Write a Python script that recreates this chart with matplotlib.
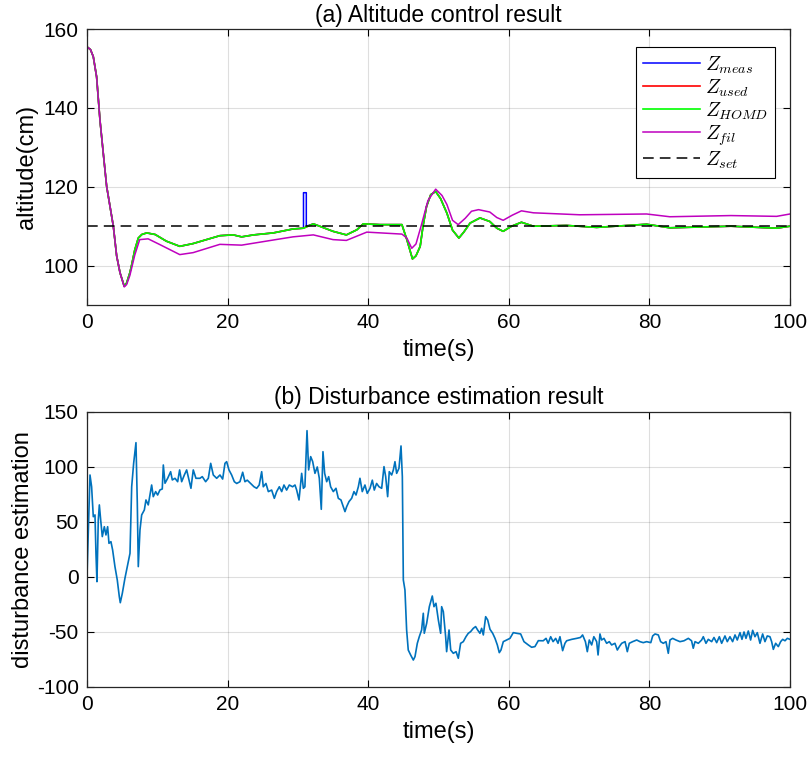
import numpy as np
import matplotlib.pyplot as plt

plt.rcParams['font.family'] = ['Liberation Sans', 'DejaVu Sans']
plt.rcParams['mathtext.fontset'] = 'cm'
plt.rcParams['axes.unicode_minus'] = False

# (a) altitude
t_homd = [0, 0.5, 0.9, 1.37, 1.85, 2.32, 2.8, 3.75, 4.22, 4.7, 5.3, 5.64, 6.1, 6.36, 6.8,
          7.3, 7.8, 8.5, 9.7, 11.3, 13.2, 15.1, 17, 18.9, 20.8, 22, 23.7, 26.5, 29.3, 30.8,
          32.2, 33.1, 35, 36.9, 38.4, 39.3, 41.7, 44.8, 45.5, 46.3, 46.8, 47.4, 47.8, 48.3,
          48.9, 49.6, 50.3, 51.2, 52.0, 52.9, 53.6, 54.5, 55.9, 57.3, 58.3, 59.2, 60.4,
          61.8, 63.5, 68.2, 72.5, 79.6, 82.9, 91.6, 98.1, 100]
z_homd = [155.5, 154.8, 153, 147.9, 136.9, 128.5, 120.1, 110, 102.5, 98.2, 94.8, 95.6,
          98.2, 100.2, 104, 107, 107.9, 108.3, 107.9, 106.2, 104.9, 105.6, 106.6, 107.6,
          107.8, 107.3, 107.8, 108.3, 109.3, 109.5, 110.6, 110, 108.7, 107.8, 109.1, 110.6,
          110.4, 110.4, 106.6, 101.7, 102.5, 104.9, 110, 115, 118, 118.8, 117, 113.3, 109,
          107, 108.5, 110.8, 112.1, 111.2, 109.5, 108.7, 110, 111, 110, 110.2, 109.7, 110.5,
          109.6, 110, 109.5, 110]
z_used = list(z_homd)
# short glitch in the raw measurement
spike_t = [30.8, 30.8, 31.2, 31.2]
spike_z = [109.5, 118.5, 118.5, 110.0]
t_fil = [0, 0.5, 0.9, 1.37, 1.85, 2.32, 2.8, 3.75, 4.22, 4.7, 5.3, 5.64, 6.1, 6.8, 7.5,
         8.7, 10.3, 13.2, 15.1, 18.9, 22, 26.5, 29.3, 32.2, 35, 36.9, 39.8, 44.8, 45.5,
         46.2, 46.8, 47.6, 48.5, 49.6, 50.5, 51.2, 52.0, 52.8, 53.8, 54.7, 55.7, 57.3, 58.3,
         59.2, 60.5, 61.8, 63.5, 70.1, 79.6, 82.9, 91.6, 98.1, 100]
z_fil = [155.5, 154.8, 153, 147.9, 136.9, 128.5, 120.1, 110, 102.5, 98.2, 94.6, 95.2, 97.5,
         102.7, 106.6, 106.8, 105.4, 102.8, 103.3, 105.4, 105.2, 106.5, 107.3, 107.8, 106.6,
         106.4, 108.5, 108, 107, 104.4, 105.5, 110.5, 116.5, 119.4, 117.8, 115.5, 111.5,
         110.4, 112, 113.8, 114.2, 113.6, 112.2, 111.5, 112.8, 113.9, 113.4, 112.9, 113.1,
         112.4, 112.7, 112.5, 113.1]
z_set = 110

# (b) disturbance estimate
t_dist = [0, 0.43, 0.66, 0.9, 1.14, 1.28, 1.42, 1.61, 1.76, 1.95, 2.18, 2.47, 2.7, 2.94,
          3.13, 3.41, 3.65, 3.98, 4.31, 4.6, 4.74, 5.03, 5.4, 5.79, 6.12, 6.36, 6.64, 6.97,
          7.16, 7.3, 7.54, 7.78, 8.16, 8.39, 8.72, 9.2, 9.43, 9.77, 10.05, 10.38, 10.71,
          10.86, 11.1, 11.48, 11.9, 12.14, 12.52, 12.9, 13.18, 13.47, 13.85, 14.18, 14.51,
          14.79, 15.12, 15.5, 16.07, 16.4, 16.88, 17.26, 17.6, 17.97, 18.45, 18.92, 19.3,
          19.63, 19.87, 20.2, 20.58, 20.96, 21.3, 21.76, 22.15, 22.47, 22.8, 23.28, 23.76,
          24.14, 24.5, 24.85, 25.08, 25.46, 25.8, 26.27, 26.65, 26.98, 27.36, 27.7, 28.02,
          28.4, 28.78, 29.25, 29.59, 29.83, 30.16, 30.54, 30.78, 31, 31.3, 31.53, 31.82,
          32.1, 32.43, 32.76, 33.05, 33.33, 33.57, 33.81, 34.1, 34.38, 34.66, 35.04, 35.42,
          35.75, 36.13, 36.46, 36.7, 36.94, 37.27, 37.65, 37.98, 38.27, 38.6, 38.83, 39.16,
          39.54, 39.87, 40.26, 40.59, 40.87, 41.2, 41.54, 41.92, 42.25, 42.49, 42.77, 43.0,
          43.34, 43.58, 43.81, 44.05, 44.38, 44.67, 44.86, 44.93, 45.0, 45.23, 45.47, 45.7,
          46.04, 46.42, 46.66, 46.99, 47.27, 47.6, 47.84, 47.98, 48.32, 48.7, 49.12, 49.36,
          49.64, 49.98, 50.31, 50.45, 50.69, 51.02, 51.16, 51.5, 51.74, 52.11, 52.5, 52.82,
          53.15, 53.53, 53.91, 54.24, 54.57, 54.95, 55.28, 55.57, 55.9, 56.14, 56.38, 56.71,
          57.0, 57.33, 57.71, 58.04, 58.37, 58.65, 58.89, 59.22, 59.7, 60.17, 60.64, 61.12,
          61.69, 62.16, 62.78, 63.25, 63.72, 64.2, 64.9, 65.3, 65.6, 65.96, 66.3, 66.67, 67,
          67.28, 67.66, 67.99, 68.23, 68.95, 69.66, 70.2, 70.5, 70.9, 71.17, 71.45, 71.79,
          72.1, 72.5, 72.7, 72.97, 73.2, 73.54, 73.92, 74.3, 74.63, 75.1, 75.44, 75.73,
          76.06, 76.54, 76.86, 77.14, 77.62, 78.2, 78.66, 79.13, 79.61, 80.2, 80.47, 80.8,
          81.27, 81.6, 81.98, 82.36, 82.69, 82.93, 83.31, 83.78, 84.35, 84.92, 85.54, 86,
          86.24, 86.49, 86.96, 87.43, 87.67, 88.05, 88.38, 88.86, 89.19, 89.57, 89.95, 90.28,
          90.75, 91.08, 91.46, 91.84, 92.18, 92.5, 92.89, 93.17, 93.46, 93.74, 94.07, 94.4,
          94.69, 95.02, 95.35, 95.73, 96.11, 96.44, 96.77, 97.15, 97.39, 97.63, 97.96, 98.34,
          98.67, 98.96, 99.29, 99.62, 100]
d_est = [0, 92.7, 82, 54.8, 56.4, 21.5, -4.3, 51.8, 65.5, 51.8, 36.7, 45.7, 38.2, 45.7,
         30.6, 32.1, 24.5, 9.4, -2.7, -17.9, -23.4, -14.8, -1.2, 10.9, 21.5, 82, 103.3, 122.1,
         67, 9.4, 42.7, 56.4, 60.9, 70, 65.5, 83.6, 73, 77.6, 74.5, 79.1, 80, 101.8, 85.2,
         89.7, 95.7, 88.2, 89.7, 86.6, 97.3, 86.6, 92.7, 97.3, 88.2, 80.6, 97.3, 89.7, 89.7,
         91.2, 86.6, 89.7, 103.3, 92.7, 89.7, 92.7, 89, 103.3, 104.8, 97.3, 92.7, 86.6, 85,
         86.6, 95.2, 86.6, 88, 85, 82, 80.6, 83.6, 95.7, 82, 85, 77.6, 79, 71.5, 77.6, 82,
         77.6, 83.6, 79, 83.6, 82, 83.6, 79, 70, 94.2, 80.6, 82, 133, 97.3, 109.4, 105, 94.2,
         100, 89.7, 61.5, 113.9, 94.2, 86.6, 91.2, 82, 77.6, 80.6, 71.5, 70, 63.9, 59.4, 63.9,
         68.5, 71.5, 77.6, 74.5, 82, 89.7, 77.6, 83.6, 76, 80.6, 88, 79, 85, 82, 80.6, 100.3,
         91.2, 73, 95.7, 92.7, 97.3, 104.8, 94.2, 98.8, 119.1, 91.2, 42.7, -2.7, -11.8, -48.2,
         -66.4, -70.9, -75.5, -72.4, -60.3, -54.3, -48.2, -33, -51.2, -42.1, -27, -17.3, -27,
         -23.9, -39.1, -51.2, -27, -31.5, -54.3, -67.9, -48.2, -66.4, -69.4, -67.9, -73.9,
         -60.3, -58.8, -54.3, -51.2, -49.7, -46.7, -45.1, -48.2, -51.2, -46.7, -52.7, -36.1,
         -39.1, -47.6, -51.2, -55.8, -61.8, -68.8, -66.4, -58.8, -57.3, -55.8, -50.6, -51.2,
         -51.8, -58.8, -61.8, -63.9, -63.3, -57.9, -58, -55.8, -60.3, -54.3, -58.8, -55.8,
         -60.3, -54.3, -67, -60.3, -58, -56.7, -55.8, -55, -52.7, -58.8, -67.9, -57.3, -61.8,
         -54.3, -58.8, -70.9, -51.8, -57.3, -55.8, -60.3, -58.8, -61.8, -60.3, -66.4, -63.3,
         -60.3, -58.8, -67.9, -60.3, -58.8, -57.3, -58.8, -59.7, -58.8, -59.7, -53.6, -51.8,
         -52.7, -58.8, -60.3, -58.8, -69.4, -57.3, -55.8, -57.3, -58.8, -58, -55.8, -58,
         -64.8, -58.8, -60.3, -57.3, -54.3, -60.3, -56.7, -58.8, -55, -59.7, -54.3, -60.3,
         -53.6, -58.8, -54.3, -58.8, -52.7, -57.3, -50.6, -56.7, -50, -55.8, -49.1, -57.3,
         -48.5, -54.3, -50.6, -60.3, -51.8, -58.8, -53.6, -54.3, -58.8, -65.8, -60.3, -63.3,
         -58.8, -56.7, -58, -55.8, -56.7]

# measurement = used signal with the glitch spliced in
k = t_homd.index(30.8)
t_meas = t_homd[:k] + spike_t + t_homd[k + 1:]
z_meas = z_homd[:k] + spike_z + z_homd[k + 1:]

fig = plt.figure(figsize=(8.09, 7.57), dpi=100)
ax1 = fig.add_axes([0.1075, 0.597, 0.869, 0.3646])
ax2 = fig.add_axes([0.1075, 0.0925, 0.869, 0.3633])

ax1.plot(t_meas, z_meas, color='b', lw=1.1, label='$Z_{meas}$')
ax1.plot(t_homd, z_used, color='r', lw=1.2, label='$Z_{used}$')
ax1.plot(t_homd, z_homd, color=(0, 1, 0), lw=1.2, label='$Z_{HOMD}$')
ax1.plot(t_fil, z_fil, color='m', lw=1.1, label='$Z_{fil}$')
ax1.axhline(z_set, color='k', ls=(0, (7, 4)), lw=1.1, label='$Z_{set}$')
ax1.set_xlim(0, 100)
ax1.set_ylim(90, 160)
ax1.set_yticks([100, 120, 140, 160])
ax1.set_title('(a) Altitude control result', fontsize=16.5, pad=5)
ax1.set_xlabel('time(s)', fontsize=17, labelpad=5)
ax1.set_ylabel('altitude(cm)', fontsize=17, labelpad=4)
leg = ax1.legend(loc='upper right', bbox_to_anchor=(1 - 15 / 703, 1 - 18 / 276),
                 borderaxespad=0, fontsize=14.5, fancybox=False, framealpha=1,
                 edgecolor='k', handlelength=2.8, handletextpad=0.25, labelspacing=0.08,
                 borderpad=0.35)
leg.get_frame().set_linewidth(0.8)

ax2.plot(t_dist, d_est, color=(0, 0.447, 0.741), lw=1.2)
ax2.set_xlim(0, 100)
ax2.set_ylim(-100, 150)
ax2.set_title('(b) Disturbance estimation result', fontsize=16.5, pad=6)
ax2.set_xlabel('time(s)', fontsize=17, labelpad=5)
ax2.set_ylabel('disturbance estimation', fontsize=17, labelpad=2)

for ax in (ax1, ax2):
    ax.grid(True, color=(0.15, 0.15, 0.15), alpha=0.15, lw=0.8)
    ax.tick_params(direction='in', top=True, right=True, labelsize=15, length=5, pad=6)
    for s in ax.spines.values():
        s.set_linewidth(0.9)
        s.set_color((0.15, 0.15, 0.15))

fig.savefig('out.png', dpi=100)
